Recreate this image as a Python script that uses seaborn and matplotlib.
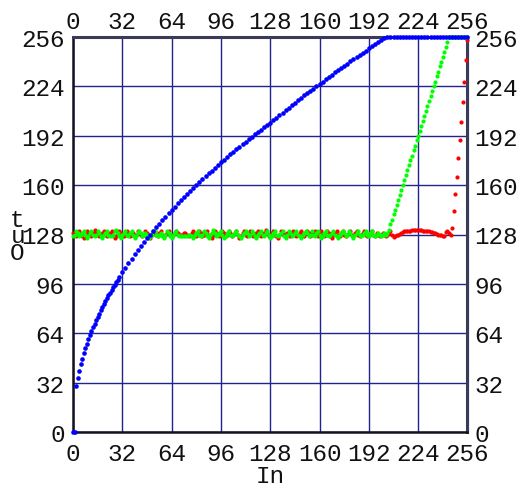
import numpy as np
import pandas as pd
import matplotlib
matplotlib.use("Agg")
import matplotlib.pyplot as plt
import seaborn as sns

# ---------------- data ----------------
ticks = [0, 32, 64, 96, 128, 160, 192, 224, 256]
tick_labels = ["0", "32", "64", "96", "128", "160", "192", "224", "256"]

blue_x = list(range(0, 31)) + list(range(32, 257, 2))
blue_y = [0, 0, 29.7, 35.1, 39.7, 43.8, 47.5, 51.0, 54.2, 57.2, 60.0, 62.7, 65.3, 67.8, 70.2,
          72.5, 74.7, 76.8, 78.9, 80.9, 82.9, 84.8, 86.7, 88.6, 90.4, 92.1, 93.8, 95.5, 97.2,
          98.8, 100.4,
          103.5, 106.6, 109.5, 112.3, 115.1, 117.8, 120.4, 123.0, 125.5, 128.0, 130.4, 132.8,
          135.1, 137.4, 139.6, 141.8, 144.0, 146.1, 148.2, 150.3, 152.3, 154.3, 156.3, 158.2,
          160.2, 162.1, 163.9, 165.8, 167.6, 169.4, 171.2, 173.0, 174.7, 176.5, 178.2, 179.9,
          181.5, 183.2, 184.9, 186.5, 188.1, 189.7, 191.3, 192.9, 194.4, 196.0, 197.5, 199.0,
          200.5,
          202.2, 203.8, 205.4, 207.0, 208.7, 210.3, 211.8, 213.4, 214.9, 216.5, 218.1, 219.6,
          221.2, 222.6, 224.2, 225.7, 227.1, 228.7, 230.1, 231.6, 233.1, 234.5, 236.0, 237.3,
          238.8, 240.2, 241.6, 243.0, 244.4, 245.8, 247.2, 248.6, 250.0, 251.3, 252.7, 254.1,
          255.3,
          256, 256, 256, 256, 256, 256, 256, 256, 256, 256, 256, 256, 256, 256, 256, 256, 256,
          256, 256, 256, 256, 256, 256, 256, 256, 256, 256]

green_x = list(range(0, 257))
green_y = [127, 128, 130, 129, 127, 128, 129, 130, 128, 126, 127, 129, 130, 128, 127, 128, 130, 129, 127, 126,
           128, 129, 130, 128, 127, 127, 128, 130, 131, 129, 127, 126, 128, 129, 130, 128, 127, 129, 130, 128,
           126, 127, 129, 130, 129, 127, 128, 129, 128, 126, 127, 128, 130, 130, 128, 127, 128, 129, 127, 126,
           128, 130, 129, 127, 126, 128, 129, 130, 128, 127, 127, 127, 127, 127, 127, 128, 128, 127, 126, 128,
           129, 130, 128, 127, 128, 130, 129, 127, 126, 128, 129, 131, 129, 127, 128, 129, 130, 128, 126, 127,
           129, 130, 128, 127, 128, 129, 130, 128, 127, 126, 128, 129, 130, 129, 127, 128, 130, 129, 127, 126,
           128, 129, 130, 128, 127, 129, 130, 128, 126, 127, 129, 130, 128, 127, 128, 129, 130, 127, 126, 128,
           130, 129, 127, 128, 129, 130, 128, 127, 126, 128, 129, 130, 129, 127, 128, 130, 128, 127, 129, 130,
           128, 126, 127, 129, 130, 128, 127, 128, 129, 130, 128, 127, 126, 128, 129, 130, 129, 127, 128, 130,
           129, 127, 126, 128, 129, 130, 128, 127, 128, 129, 130, 128, 127, 129, 130, 128, 127, 128, 129, 128,
           127, 128, 129, 128, 129,
           131, 134.5, 137.5, 141, 144, 147, 150.5, 153.5, 157, 160, 163, 166.5, 169.5, 173, 176, 179,
           182.5, 185.5, 189, 192, 195, 198.5, 201.5, 205, 208, 211, 214.5, 217.5, 221, 224, 227, 230.5,
           233.5, 237, 240, 243, 246.5, 249.5, 253, 256,
           256, 256, 256, 256, 256, 256, 256, 256, 256, 256, 256, 256]

red_x = list(range(0, 257))
red_y = [129, 128, 127, 129, 130, 128, 127, 126, 128, 130, 129, 128, 127, 129, 131, 129, 128, 127, 128, 129,
         130, 128, 127, 128, 129, 130, 128, 126, 127, 129, 130, 129, 128, 127, 128, 130, 129, 127, 128, 129,
         127, 128, 130, 129, 128, 127, 128, 130, 129, 127, 126, 128, 129, 130, 128, 127, 129, 130, 128, 127,
         128, 129, 130, 128, 127, 128, 129, 130, 129, 128, 128, 128, 129, 129, 128, 127, 128, 129, 130, 128,
         127, 128, 130, 129, 127, 128, 129, 130, 128, 127, 126, 128, 130, 129, 128, 127, 128, 130, 129, 127,
         128, 130, 129, 127, 128, 129, 130, 128, 126, 127, 129, 130, 128, 127, 128, 130, 129, 127, 128, 129,
         130, 128, 127, 128, 129, 131, 129, 127, 128, 129, 130, 128, 127, 126, 128, 130, 129, 128, 127, 129,
         128, 127, 129, 130, 128, 127, 128, 129, 130, 128, 127, 129, 130, 129, 127, 128, 129, 130, 128, 127,
         129, 130, 128, 127, 128, 130, 129, 127, 126, 128, 129, 130, 128, 127, 129, 130, 128, 127, 128, 129,
         130, 128, 127, 129, 130, 128, 127, 128, 129, 130, 128, 127, 128, 129, 130, 128, 127, 129, 128, 127,
         128, 129, 128, 127, 128,
         129, 130.5, 128, 126.5, 127, 127.5, 128, 128.5, 129, 129.5, 130, 130, 130.5, 130.5, 130.5, 131,
         131, 131, 131, 131, 131, 131, 130.5, 130.5, 130.5, 130, 130, 129.5, 129.5, 129, 129, 128.5,
         128, 128, 127.5, 127, 127, 129.5, 130.5, 129, 128,
         132, 143, 154, 165.5, 177.5, 189.5, 201, 214, 227, 241, 254]

df_red = pd.DataFrame({"In": red_x, "Out": red_y})
df_green = pd.DataFrame({"In": green_x, "Out": green_y})
df_blue = pd.DataFrame({"In": blue_x, "Out": blue_y})

# ---------------- style ----------------
sns.set_style("white")
FONT = ["Liberation Mono", "DejaVu Sans Mono"]
plt.rcParams["font.family"] = FONT
FS = 17.5

W, H = 523, 489
fig = plt.figure(figsize=(W / 100, H / 100), dpi=100)
ax = fig.add_axes([73 / W, 1 - 433 / H, (467.5 - 73) / W, (433 - 38) / H])

grid_col = "#23238c"
for t in ticks:
    ax.axvline(t, color=grid_col, lw=1.0, zorder=0)
    ax.axhline(t, color=grid_col, lw=1.0, zorder=0)

common = dict(s=9, linewidth=0, clip_on=False, legend=False, ax=ax)
sns.scatterplot(data=df_red, x="In", y="Out", color="#ff0000", zorder=3, **common)
sns.scatterplot(data=df_green, x="In", y="Out", color="#00ff00", zorder=4, **common)
sns.scatterplot(data=df_blue, x="In", y="Out", color="#0000ff", s=11, linewidth=0,
                clip_on=False, legend=False, ax=ax, zorder=5)

ax.set_xlim(0, 256)
ax.set_ylim(0, 256)
ax.set_xticks(ticks)
ax.set_yticks(ticks)
ax.set_xticklabels(tick_labels, fontsize=FS)
ax.set_yticklabels(tick_labels, fontsize=FS)
ax.tick_params(axis="x", length=0, pad=7, colors="#111111")
ax.tick_params(axis="y", length=0, pad=6, colors="#111111")
ax.set_xlabel("")
ax.set_ylabel("")

for side in ["left", "bottom"]:
    ax.spines[side].set_color("#111122")
    ax.spines[side].set_linewidth(1.8)
for side in ["top", "right"]:
    ax.spines[side].set_color("#3a3a5a")
    ax.spines[side].set_linewidth(2.2)

top = ax.secondary_xaxis("top")
top.set_xticks(ticks)
top.set_xticklabels(tick_labels, fontsize=FS)
top.tick_params(length=0, pad=3, colors="#111111")
right = ax.secondary_yaxis("right")
right.set_yticks(ticks)
right.set_yticklabels(tick_labels, fontsize=FS)
right.tick_params(length=0, pad=5, colors="#111111")

def px(x, y):
    return x / W, 1 - y / H

fig.text(*px(270, 483), "In", fontsize=FS, ha="center", va="baseline", color="#111111")
fig.text(*px(17, 227), "t", fontsize=FS, ha="center", va="baseline", color="#111111")
fig.text(*px(18, 243), "u", fontsize=FS, ha="center", va="baseline", color="#111111")
fig.text(*px(17, 260), "O", fontsize=FS, ha="center", va="baseline", color="#111111")

fig.savefig("out.png", dpi=100, facecolor="white")
